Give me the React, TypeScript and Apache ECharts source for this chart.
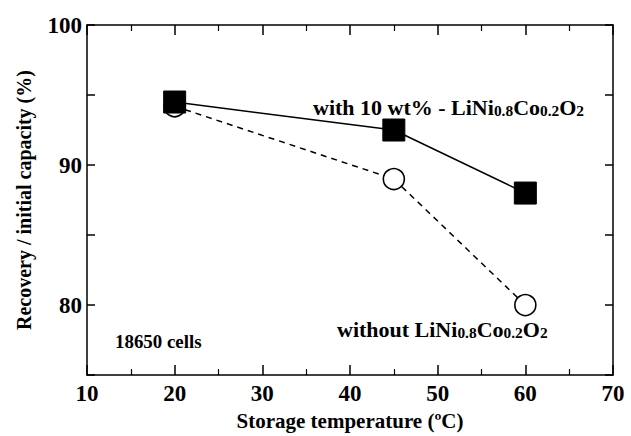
import React, { useEffect, useRef } from "react";
import * as echarts from "echarts";

const temperatures = [20, 45, 60];
const withAdditive = [94.5, 92.5, 88.0];
const withoutAdditive = [94.2, 89.0, 80.0];
const xTicks = [10, 20, 30, 40, 50, 60, 70];
const yTicks = [80, 90, 100];

const FONT = "'Liberation Serif', 'Times New Roman', serif";

export default function App() {
  const ref = useRef<HTMLDivElement>(null);
  useEffect(() => {
    document.body.style.margin = "0";
    const chart = echarts.init(ref.current!, null, { renderer: "svg" });
    const tickCommon = {
      axisLine: { show: true, lineStyle: { color: "#000", width: 1.5 } },
      axisTick: { show: true, inside: true, length: 10, lineStyle: { color: "#000", width: 1.5 } },
      minorTick: { show: true, splitNumber: 2, length: 6, lineStyle: { color: "#000", width: 1.2 } },
      splitLine: { show: false },
      minorSplitLine: { show: false },
    };
    const yTick = { show: true, inside: true, length: 8, lineStyle: { color: "#000", width: 1.5 } };
    const sub = { fontSize: 14, fontWeight: "bold", fontFamily: FONT, color: "#000", padding: [6, 0, 0, 0] };
    const main = { fontSize: 20, fontWeight: "bold", fontFamily: FONT, color: "#000" };
    chart.setOption({
      animation: false,
      backgroundColor: "#fff",
      grid: { left: 87, right: 18, top: 25, bottom: 60 },
      xAxis: [
        {
          type: "value",
          min: xTicks[0],
          max: xTicks[xTicks.length - 1],
          interval: 10,
          name: "Storage temperature (ºC)",
          nameLocation: "middle",
          nameGap: 33,
          nameTextStyle: { fontSize: 21, fontWeight: "bold", fontFamily: FONT, color: "#000" },
          axisLabel: { fontSize: 23, fontWeight: "bold", fontFamily: FONT, color: "#000", margin: 7 },
          ...tickCommon,
        },
        {
          type: "value",
          position: "top",
          min: xTicks[0],
          max: xTicks[xTicks.length - 1],
          interval: 10,
          axisLabel: { show: false },
          ...tickCommon,
        },
      ],
      yAxis: [
        {
          type: "value",
          min: 75,
          max: 100,
          interval: 5,
          name: "Recovery / initial capacity (%)",
          nameLocation: "middle",
          nameGap: 53,
          nameTextStyle: { fontSize: 20, fontWeight: "bold", fontFamily: FONT, color: "#000" },
          axisLabel: {
            fontSize: 23,
            fontWeight: "bold",
            fontFamily: FONT,
            color: "#000",
            margin: 5,
            formatter: (v: number) => (yTicks.includes(v) ? String(v) : ""),
          },
          ...tickCommon,
          axisTick: yTick,
          minorTick: { show: false },
        },
        {
          type: "value",
          position: "right",
          min: 75,
          max: 100,
          interval: 5,
          axisLabel: { show: false },
          ...tickCommon,
          axisTick: yTick,
          minorTick: { show: false },
        },
      ],
      series: [
        {
          type: "line",
          name: "without",
          data: temperatures.map((t, i) => [t, withoutAdditive[i]]),
          symbol: "circle",
          symbolSize: 21,
          itemStyle: { color: "#fff", borderColor: "#000", borderWidth: 1.6 },
          lineStyle: { color: "#000", width: 1.5, type: [6, 5] },
          z: 2,
        },
        {
          type: "line",
          name: "with",
          data: temperatures.map((t, i) => [t, withAdditive[i]]),
          symbol: "rect",
          symbolSize: 22,
          itemStyle: { color: "#000", borderColor: "#000" },
          lineStyle: { color: "#000", width: 1.5 },
          z: 3,
        },
      ],
      graphic: [
        {
          type: "text",
          x: 313,
          y: 98,
          scaleX: 1.1,
          style: {
            text: "{m|with 10 wt% - LiNi}{s|0.8}{m|Co}{s|0.2}{m|O}{s|2}",
            rich: { m: main, s: sub },
          },
        },
        {
          type: "text",
          x: 337,
          y: 320,
          scaleX: 1.1,
          style: {
            text: "{m|without LiNi}{s|0.8}{m|Co}{s|0.2}{m|O}{s|2}",
            rich: { m: main, s: sub },
          },
        },
        {
          type: "text",
          x: 115,
          y: 333,
          scaleX: 1.05,
          style: { text: "18650 cells", font: `bold 18px ${FONT}`, fill: "#000" },
        },
      ],
    });
    return () => chart.dispose();
  }, []);
  return <div ref={ref} style={{ width: 631, height: 436 }} />;
}
